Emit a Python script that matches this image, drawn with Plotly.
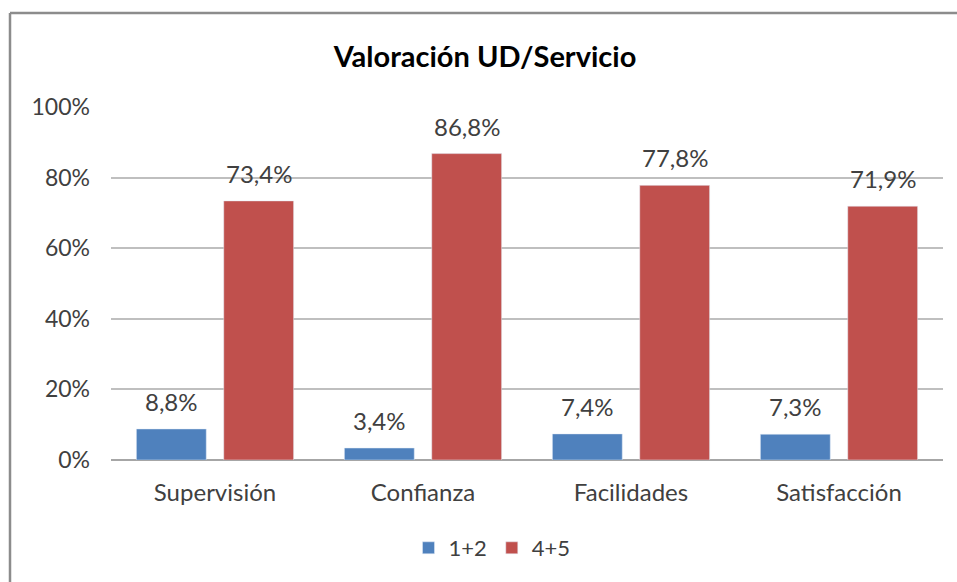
import plotly.graph_objects as go

categories = ["Supervisión", "Confianza", "Facilidades", "Satisfacción"]
serie_12 = [8.8, 3.4, 7.4, 7.3]
serie_45 = [73.4, 86.8, 77.8, 71.9]
y_ticks = [0, 20, 40, 60, 80, 100]
y_tick_labels = [f"{v}%" for v in y_ticks]

FONT = "Lato, 'Open Sans', sans-serif"
TXT = "#404040"
L, R, T, B = 111, 14, 107, 122
W, H = 957, 582
PW, PH = W - L - R, H - T - B

fig = go.Figure()
fig.add_trace(go.Bar(name="1+2", x=categories, y=serie_12, marker_color="#4F81BD"))
fig.add_trace(go.Bar(name="4+5", x=categories, y=serie_45, marker_color="#C0504D"))

# data labels, placed above each bar
bar_shift = 43.5
for vals, dx in ((serie_12, -bar_shift), (serie_45, bar_shift)):
    for c, v in zip(categories, vals):
        fig.add_annotation(x=c, y=v, xref="x", yref="y",
                           text=f"{v:.1f}%".replace(".", ","),
                           showarrow=False, xanchor="center", yanchor="bottom",
                           xshift=dx, yshift=11,
                           font=dict(size=24, color=TXT, family=FONT))

fig.update_layout(
    width=W, height=H,
    separators=",.",
    paper_bgcolor="white", plot_bgcolor="white",
    margin=dict(l=L, r=R, t=T, b=B),
    barmode="group", bargap=0.16, bargroupgap=0.2,
    title=dict(text="<b>Valoración UD/Servicio</b>", x=(485 - L) / PW, xanchor="center",
               xref="paper",
               y=1 - 57 / H, yanchor="middle",
               font=dict(size=29, color="#000000", family=FONT)),
    font=dict(family=FONT, color=TXT, size=22),
    showlegend=True,
    legend=dict(orientation="h", x=(492 - L) / PW, xanchor="center",
                y=(T + PH - 548) / PH, yanchor="middle",
                font=dict(size=22, color=TXT), traceorder="normal"),
)
fig.update_yaxes(range=[0, 100], tickvals=y_ticks, ticktext=y_tick_labels,
                 showgrid=True, gridcolor="#BFBFBF", gridwidth=1.5,
                 zeroline=True, zerolinecolor="#A6A6A6", zerolinewidth=1.5,
                 showline=False, ticks="", ticklabelstandoff=20,
                 tickfont=dict(size=23, color=TXT), automargin=False)
fig.update_xaxes(showline=False, ticks="", ticklabelstandoff=16,
                 tickfont=dict(size=24, color=TXT), automargin=False)

# chart-area border (cut off at the right and bottom in the reference)
border = dict(color="#8C8C8C", width=2.5)
fig.add_shape(type="line", xref="paper", yref="paper",
              x0=(10 - L) / PW, x1=(W + 5 - L) / PW,
              y0=(T + PH - 13) / PH, y1=(T + PH - 13) / PH, line=border, layer="below")
fig.add_shape(type="line", xref="paper", yref="paper",
              x0=(10 - L) / PW, x1=(10 - L) / PW,
              y0=(T + PH - 13) / PH, y1=(T + PH - H - 5) / PH, line=border, layer="below")

fig.write_html(
    "out.html", config={"displayModeBar": False},
    post_script=(
        "document.documentElement.style.overflow='hidden';"
        "document.documentElement.style.margin='0';"
        "document.body.style.margin='0';document.body.style.overflow='hidden';"
    ),
)
